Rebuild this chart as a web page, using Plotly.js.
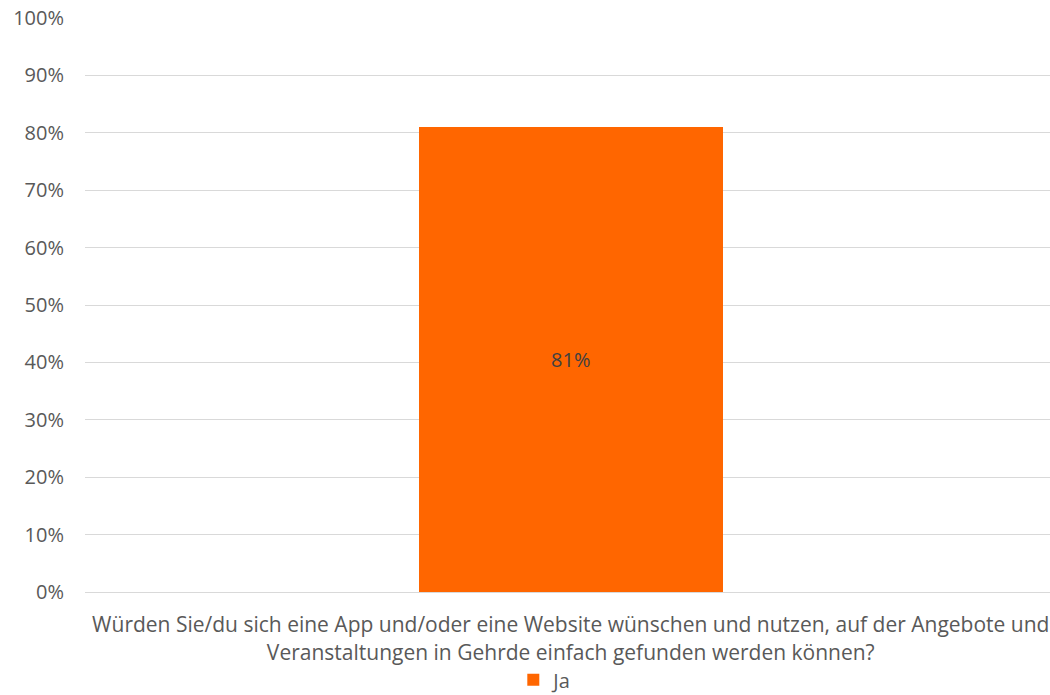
<!DOCTYPE html>
<html>
<head>
<meta charset="utf-8">
<script src="https://cdn.plot.ly/plotly-3.0.1.min.js"></script>
<style>html,body{margin:0;padding:0;background:#fff;}#chart{width:1050px;height:695px;}</style>
</head>
<body>
<div id="chart"></div>
<script>
const categories = ["Würden Sie/du sich eine App und/oder eine Website wünschen und nutzen, auf der Angebote und<br>Veranstaltungen in Gehrde einfach gefunden werden können?"];
const seriesName = "Ja";
const jaValues = [0.81];
const yTickValues = [0, 0.1, 0.2, 0.3, 0.4, 0.5, 0.6, 0.7, 0.8, 0.9, 1.0];

const FONT = "Open Sans, Liberation Sans, sans-serif";

const trace = {
  type: "bar",
  x: categories,
  y: jaValues,
  name: seriesName,
  marker: {color: "#ff6600"},
  width: 0.315,
  text: jaValues.map(v => Math.round(v * 100) + "%"),
  textposition: "inside",
  insidetextanchor: "middle",
  textfont: {family: FONT, size: 20, color: "#404040"},
  hoverinfo: "skip",
  showlegend: true
};

const layout = {
  width: 1050,
  height: 695,
  margin: {l: 85, r: 0, t: 18, b: 103},
  paper_bgcolor: "#ffffff",
  plot_bgcolor: "#ffffff",
  font: {family: FONT, size: 20, color: "#595959"},
  xaxis: {
    type: "category",
    range: [-0.5034, 0.4966],
    showgrid: false,
    showline: true,
    linecolor: "#d9d9d9",
    linewidth: 1,
    ticks: "",
    ticklabelstandoff: 14,
    tickfont: {family: FONT, size: 21, color: "#595959"},
    automargin: false
  },
  yaxis: {
    range: [0, 1.0],
    tickvals: yTickValues,
    tickformat: ".0%",
    showgrid: true,
    gridcolor: "#d9d9d9",
    gridwidth: 1,
    zeroline: false,
    showline: false,
    ticks: "",
    ticklen: 0,
    ticklabelstandoff: 20,
    tickfont: {family: FONT, size: 20, color: "#595959"},
    automargin: false
  },
  showlegend: true,
  legend: {
    orientation: "h",
    x: 0.477,
    xanchor: "center",
    yref: "container",
    y: 0.022,
    yanchor: "middle",
    font: {family: FONT, size: 20, color: "#595959"},
    itemwidth: 30,
    bgcolor: "rgba(0,0,0,0)"
  },
  bargap: 0
};

Plotly.newPlot("chart", [trace], layout, {displayModeBar: false, staticPlot: true});
</script>
</body>
</html>
